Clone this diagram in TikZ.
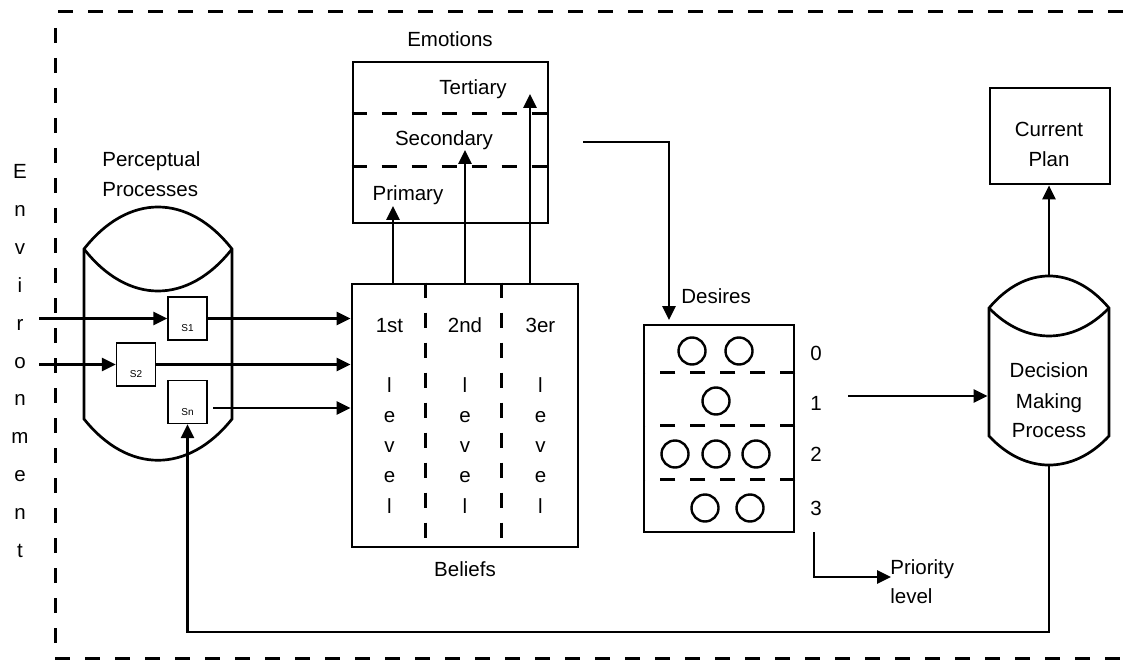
\documentclass[tikz,border=0pt]{standalone}
\usepackage{fontspec}
\setmainfont{Liberation Sans}
\usetikzlibrary{arrows.meta,calc}
\begin{document}
\begin{tikzpicture}[x=1pt,y=-1pt,
  line width=2.7pt,
  arr/.style={-{Triangle[length=14pt,width=13pt]}},
  box/.style={draw,line width=2.7pt,inner sep=0pt},
  txt/.style={font=\fontsize{20.5}{24}\selectfont,inner sep=0pt,anchor=base},
  sbox/.style={draw,line width=1.4pt,minimum width=39pt,minimum height=43pt,inner sep=0pt},
  stxt/.style={font=\fontsize{10}{12}\selectfont,inner sep=0pt,anchor=base},
  div/.style={dash pattern=on 15pt off 15pt,line width=3pt},
  circ/.style={draw,circle,minimum size=27pt,inner sep=0pt,line width=2.4pt},
  ghost/.style={inner sep=0pt}
]
\useasboundingbox (0,0) rectangle (1123,660);

% environment border
\draw[div] (55,28) -- (55,650);
\draw[div] (58,12) -- (1123,12);
\draw[div] (55,658) -- (1123,658);

% Environment letters
\foreach \c [count=\i] in {E,n,v,i,r,o,n,m,e,n,t}
  \node[txt] (env\i) at (20,{179+37.8*(\i-1)}) {\c};

% Perceptual processes cylinder
\node[txt,anchor=base west] (ppt1) at (101,167) {Perceptual};
\node[txt,anchor=base west] (ppt2) at (101,197) {Processes};
\node[ghost,minimum width=148pt,minimum height=170pt] (pp) at (158,334) {};
\draw (84,249) .. controls (128,193) and (188,193) .. (232,249) -- (232,419)
      .. controls (188,474) and (128,474) .. (84,419) -- cycle;
\draw (84,249) .. controls (128,305) and (188,305) .. (232,249);

\node[sbox] (s1) at (187.5,318.5) {};
\node[sbox] (s2) at (136,364.5) {};
\node[sbox] (sn) at (187.5,402) {};
\node[stxt] (s1t) at ($(s1.south)+(0,-9)$) {S1};
\node[stxt] (s2t) at ($(s2.south)+(0,-9)$) {S2};
\node[stxt] (snt) at ($(sn.south)+(0,-9)$) {Sn};

% Beliefs
\node[box,minimum width=226pt,minimum height=263pt] (bel) at (465,415.5) {};
\node[txt] (belt) at (465,576) {Beliefs};
\draw[div] ($(bel.north west)+(75,0)$) -- ($(bel.south west)+(75,0)$);
\draw[div] ($(bel.north west)+(151,0)$) -- ($(bel.south west)+(151,0)$);
\node[txt] (c1t) at (389.5,332) {1st};
\node[txt] (c2t) at (465,332) {2nd};
\node[txt] (c3t) at (540.5,332) {3er};
\foreach \x [count=\j] in {389.5,465,540.5}
  \foreach \c [count=\i] in {l,e,v,e,l}
    \node[txt] (lv\j\i) at (\x,{392+30.3*(\i-1)}) {\c};

% Emotions
\node[box,minimum width=195pt,minimum height=161pt] (emo) at (450.5,142.5) {};
\node[txt] (emot) at (450,47) {Emotions};
\draw[div] ($(emo.north west)+(0,53)$) -- ($(emo.north east)+(0,53)$);
\draw[div] ($(emo.north west)+(0,106)$) -- ($(emo.north east)+(0,106)$);
\node[txt] (ter) at (473,95) {Tertiary};
\node[txt] (sec) at (444,146) {Secondary};
\node[txt] (pri) at (408,201) {Primary};

% Desires
\node[box,minimum width=150pt,minimum height=207pt] (des) at (719,428.5) {};
\node[txt,anchor=base west] (dest) at (680,303) {Desires};
\draw[div] ($(des.north east)+(0,49)$) -- ($(des.north west)+(0,49)$);
\draw[div] ($(des.north east)+(0,102)$) -- ($(des.north west)+(0,102)$);
\draw[div] ($(des.north east)+(0,156)$) -- ($(des.north west)+(0,156)$);
\node[circ] (d01) at (692,351) {};
\node[circ] (d02) at (739,351) {};
\node[circ] (d11) at (716,401) {};
\node[circ] (d21) at (675,454) {};
\node[circ] (d22) at (716,454) {};
\node[circ] (d23) at (756,454) {};
\node[circ] (d31) at (705,508) {};
\node[circ] (d32) at (750,508) {};
\node[txt] (l0) at (816,360) {0};
\node[txt] (l1) at (816,410) {1};
\node[txt] (l2) at (816,461) {2};
\node[txt] (l3) at (816,515) {3};
\node[txt,anchor=base west] (prt1) at (889,574) {Priority};
\node[txt,anchor=base west] (prt2) at (889,603) {level};

% Decision making process cylinder
\node[ghost,minimum width=120pt,minimum height=128pt] (dm) at (1049,372) {};
\draw (989,308) .. controls (1025,265.3) and (1073,265.3) .. (1109,308) -- (1109,436)
      .. controls (1073,474.7) and (1025,474.7) .. (989,436) -- cycle;
\draw (989,308) .. controls (1025,345.3) and (1073,345.3) .. (1109,308);
\node[txt] (dmt1) at (1049,377.5) {Decision};
\node[txt] (dmt2) at (1049,408) {Making};
\node[txt] (dmt3) at (1049,437) {Process};
\coordinate (dmtop) at (1049,276);
\coordinate (dmbot) at (1049,465);

% Current plan
\node[box,minimum width=120pt,minimum height=96pt] (cp) at (1050,136) {};
\node[txt] (cpt1) at (1049,136.5) {Current};
\node[txt] (cpt2) at (1049,167) {Plan};

% connectors
\coordinate (in1) at (39,318.5);
\coordinate (in2) at (39,364.5);
\draw[arr] (in1) -- (in1 -| s1.west);
\draw[arr] (in2) -- (in2 -| s2.west);
\draw[arr] (s1.east) -- (s1.east -| bel.west);
\draw[arr] (s2.east) -- (s2.east -| bel.west);
\coordinate (snout) at (213,408);
\draw[arr] (snout) -- (snout -| bel.west);

\coordinate (e1) at (393,206);
\coordinate (e2) at (465,150);
\coordinate (e3) at (530,94);
\draw[arr] (e1 |- bel.north) -- (e1);
\draw[arr] (e2 |- bel.north) -- (e2);
\draw[arr] (e3 |- bel.north) -- (e3);

\coordinate (ed) at (583,142);
\coordinate (dtop) at (669,320);
\draw[arr] (ed) -| (dtop);

\coordinate (pr0) at (814,532);
\coordinate (pr1) at (891,577);
\draw[arr] (pr0) |- (pr1);

\coordinate (l1o) at (848,396);
\draw[arr] (l1o) -- (l1o -| dm.west);

\draw[arr] (dmtop) -- (dmtop |- cp.south);

\coordinate (fb) at (187.5,632);
\draw[arr] (dmbot) |- (fb) -- (sn.south);
\end{tikzpicture}
\end{document}
